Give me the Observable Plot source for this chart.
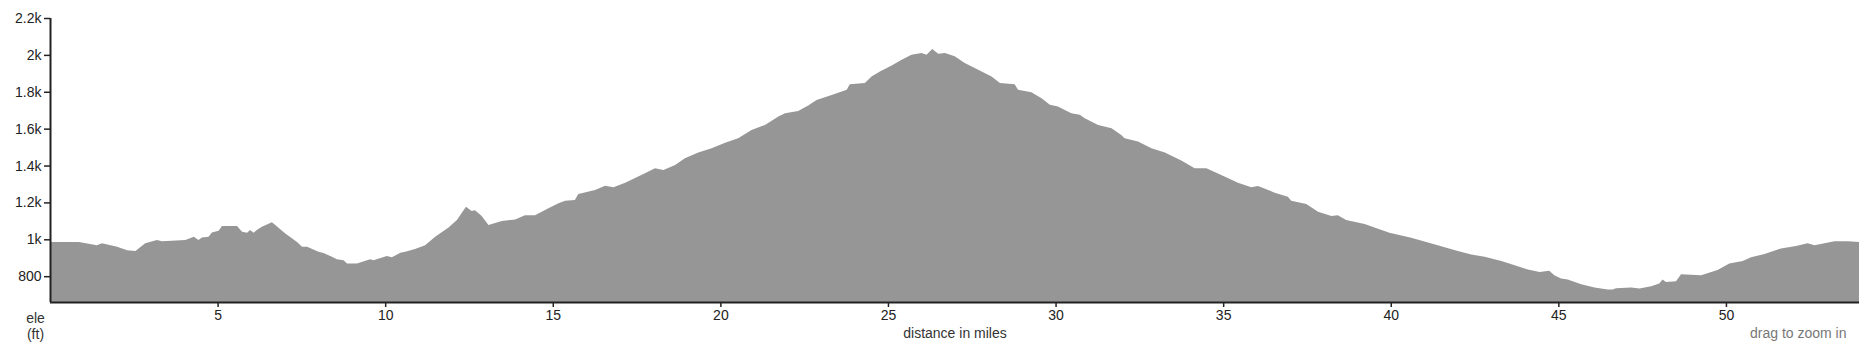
<!DOCTYPE html>
<html>
<head>
<meta charset="utf-8">
<script src="https://cdn.jsdelivr.net/npm/d3@7"></script>
<script src="https://cdn.jsdelivr.net/npm/@observablehq/plot@0.6"></script>
<style>
  html, body { margin: 0; padding: 0; background: #fff; }
  #chart svg { display: block; }
</style>
</head>
<body>
<div id="chart"></div>
<script>
const miles = [0,0.86,1.40,1.55,2.0,2.30,2.55,2.84,3.19,3.34,4.04,4.29,4.43,4.53,4.73,4.83,5.03,5.13,5.58,5.73,5.88,5.97,6.07,6.17,6.32,6.62,6.72,7.02,7.37,7.52,7.67,8.01,8.16,8.41,8.56,8.76,8.86,9.16,9.55,9.65,10.05,10.2,10.45,10.6,10.89,11.19,11.49,11.89,12.14,12.41,12.58,12.68,12.88,13.08,13.48,13.88,14.17,14.47,14.87,15.17,15.37,15.66,15.76,16.26,16.56,16.81,17.16,17.75,18.05,18.30,18.65,18.94,19.34,19.74,20.14,20.53,20.93,21.33,21.73,21.93,22.32,22.62,22.87,23.32,23.77,23.86,24.31,24.51,24.76,25.11,25.41,25.70,26.0,26.15,26.32,26.50,26.70,26.99,27.29,27.69,28.09,28.34,28.78,28.88,29.28,29.58,29.83,30.07,30.47,30.72,30.87,31.27,31.67,31.96,32.06,32.46,32.86,33.26,33.75,34.15,34.50,35.04,35.44,35.84,36.04,36.54,36.93,37.03,37.48,37.83,38.23,38.42,38.67,39.22,39.96,40.61,41.40,42.00,42.40,42.80,43.30,43.79,44.09,44.44,44.73,44.88,45.08,45.28,45.68,46.08,46.47,46.62,46.72,47.17,47.42,47.77,48.01,48.11,48.21,48.51,48.66,49.26,49.75,50.10,50.50,50.75,51.15,51.64,52.09,52.44,52.64,53.24,53.64,53.97];
const elevation = [986,986,968,978,959,941,937,978,996,990,996,1014,996,1010,1014,1037,1046,1072,1072,1041,1035,1050,1035,1050,1068,1092,1077,1032,986,959,959,932,926,905,892,886,869,869,892,886,909,902,927,932,948,968,1014,1064,1104,1177,1153,1157,1126,1077,1099,1108,1131,1131,1168,1195,1209,1213,1245,1267,1291,1282,1307,1358,1385,1376,1403,1439,1470,1494,1524,1548,1593,1620,1666,1684,1696,1725,1756,1783,1811,1841,1847,1883,1910,1943,1974,2001,2010,2001,2032,2006,2010,1992,1956,1919,1883,1847,1841,1811,1798,1765,1729,1720,1684,1675,1657,1620,1602,1566,1548,1530,1494,1470,1427,1385,1385,1340,1307,1282,1289,1253,1231,1209,1191,1149,1126,1131,1104,1083,1035,1008,968,937,918,905,883,854,836,823,829,805,787,782,756,739,728,728,735,739,733,746,760,782,769,773,811,805,833,869,883,902,920,950,963,978,968,990,990,986];
const xTicks = [5,10,15,20,25,30,35,40,45,50];
const yTicks = [800,1000,1200,1400,1600,1800,2000,2200];
const yMin = 660;

const data = miles.map((m, i) => ({mile: m, ele: elevation[i]}));
const fmt = d3.format("~s");

const chart = Plot.plot({
  width: 1875,
  height: 350,
  marginLeft: 50,
  marginRight: 16,
  marginTop: 18,
  marginBottom: 48,
  style: {fontFamily: "'Liberation Sans', Arial, sans-serif", fontSize: "14px", color: "#222", background: "#fff"},
  x: {domain: [0, 53.97]},
  y: {domain: [yMin, 2200]},
  marks: [
    Plot.areaY(data, {x: "mile", y1: yMin, y2: "ele", fill: "#969696", curve: "linear"}),
    Plot.axisX({ticks: xTicks, tickSize: 5, tickPadding: 3, tickFormat: d => String(d), label: null, stroke: "#222", strokeWidth: 1.5, fontSize: 14}),
    Plot.axisY({ticks: yTicks, tickSize: 6, tickPadding: 3, tickFormat: fmt, label: null, stroke: "#222", strokeWidth: 1.5, fontSize: 14}),
    Plot.ruleY([yMin], {stroke: "#222", strokeWidth: 2}),
    Plot.ruleX([0], {stroke: "#222", strokeWidth: 2}),
    Plot.text(["distance in miles"], {frameAnchor: "bottom", dy: 35, fontSize: 14, fill: "#333"}),
    Plot.text(["ele\n(ft)"], {frameAnchor: "bottom-left", dx: -15, dy: 9, textAnchor: "middle", lineAnchor: "top", lineHeight: 1.15, fontSize: 14, fill: "#333"}),
    Plot.text(["drag to zoom in"], {frameAnchor: "bottom-right", dx: -13, dy: 35, textAnchor: "end", fontSize: 14, fill: "#777"})
  ]
});
document.getElementById("chart").appendChild(chart);
</script>
</body>
</html>
